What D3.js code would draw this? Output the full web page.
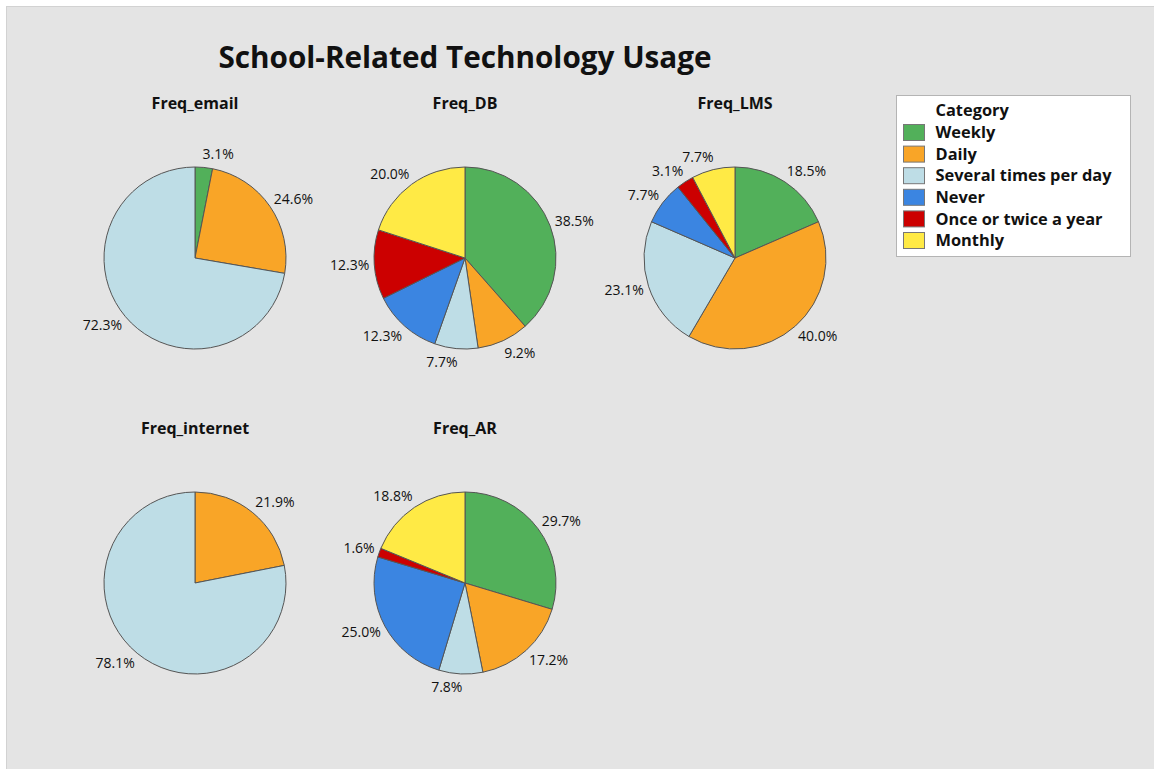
<!DOCTYPE html>
<html>
<head>
<meta charset="utf-8">
<script src="https://cdn.jsdelivr.net/npm/d3@7"></script>
<style>
  html, body { margin: 0; padding: 0; background: #ffffff; }
  svg { display: block; }
  text { font-family: "Open Sans", "Noto Sans", sans-serif; fill: #111; }
</style>
</head>
<body>
<svg id="chart" width="1154" height="769"></svg>
<script>
// Response categories, in slice order (clockwise from 12 o'clock)
const categories = ["Weekly", "Daily", "Several times per day", "Never", "Once or twice a year", "Monthly"];
const categoryColors = ["#52b05a", "#f9a527", "#bedde6", "#3b85e1", "#cc0000", "#ffea45"];

// Percentage of respondents per category for each technology
const panelNames = ["Freq_email", "Freq_DB", "Freq_LMS", "Freq_internet", "Freq_AR"];
const freqEmail    = [3.1, 24.6, 72.3, 0, 0, 0];
const freqDB       = [38.5, 9.2, 7.7, 12.3, 12.3, 20.0];
const freqLMS      = [18.5, 40.0, 23.1, 7.7, 3.1, 7.7];
const freqInternet = [0, 21.9, 78.1, 0, 0, 0];
const freqAR       = [29.7, 17.2, 7.8, 25.0, 1.6, 18.8];
const panelValues = [freqEmail, freqDB, freqLMS, freqInternet, freqAR];

const chartTitle = "School-Related Technology Usage";
const legendTitle = "Category";

const svg = d3.select("#chart");
const W = 1154, H = 769;

// Graph region background with its thin frame
svg.append("rect").attr("x", 6.5).attr("y", 6.5).attr("width", W).attr("height", H)
  .attr("fill", "#e4e4e4").attr("stroke", "#d2d2d2").attr("stroke-width", 1);

svg.append("text")
  .attr("x", 465).attr("y", 68)
  .attr("text-anchor", "middle")
  .attr("font-size", 29.7).attr("font-weight", 700)
  .text(chartTitle);

const color = d3.scaleOrdinal().domain(categories).range(categoryColors);

// Panel grid: 3 columns x 2 rows
const colX = d3.scalePoint().domain([0, 1, 2]).range([195, 735]);
const rowY = d3.scalePoint().domain([0, 1]).range([258, 583]);
const radius = 91;

const pie = d3.pie().sort(null).value(d => d.value);
const arc = d3.arc().innerRadius(0).outerRadius(radius);

panelNames.forEach((name, i) => {
  const cx = colX(i % 3), cy = rowY(Math.floor(i / 3));
  const g = svg.append("g").attr("transform", `translate(${cx},${cy})`);

  g.append("text")
    .attr("x", 0).attr("y", -radius - 58)
    .attr("text-anchor", "middle")
    .attr("font-size", 16).attr("font-weight", 700)
    .text(name);

  const data = categories.map((c, k) => ({ cat: c, value: panelValues[i][k] }));
  const arcs = pie(data).filter(a => a.data.value > 0);

  g.selectAll("path").data(arcs).join("path")
    .attr("d", arc)
    .attr("fill", d => color(d.data.cat))
    .attr("stroke", "#555555")
    .attr("stroke-width", 1);

  // Percentage labels just outside each slice's mid-angle
  const labelR = radius + 7;
  const fs = 14;
  g.selectAll("text.lbl").data(arcs).join("text")
    .attr("class", "lbl")
    .attr("font-size", fs)
    .each(function (d) {
      const a = (d.startAngle + d.endAngle) / 2;
      const px = labelR * Math.sin(a), py = -labelR * Math.cos(a);
      const s = Math.sin(a);
      d3.select(this)
        .attr("x", px + (s >= 0 ? -2 : 2))
        .attr("y", py - Math.cos(a) * fs * 0.45)
        .attr("dy", "0.35em")
        .attr("text-anchor", s >= 0 ? "start" : "end");
    })
    .text(d => d.data.value.toFixed(1) + "%");
});

// Legend
const lg = svg.append("g").attr("transform", "translate(896.5,95.5)");
lg.append("rect").attr("width", 234).attr("height", 161)
  .attr("fill", "#ffffff").attr("stroke", "#b4b4b4");
lg.append("text").attr("x", 39).attr("y", 15).attr("dy", "0.35em")
  .attr("font-size", 16.4).attr("font-weight", 700).text(legendTitle);
const ly = d3.scalePoint().domain(categories).range([37, 145]);
categories.forEach(c => {
  lg.append("rect").attr("x", 7).attr("y", ly(c) - 8).attr("width", 21).attr("height", 16)
    .attr("fill", color(c)).attr("stroke", "#777777");
  lg.append("text").attr("x", 39).attr("y", ly(c)).attr("dy", "0.35em")
    .attr("font-size", 16.4).attr("font-weight", 700).text(c);
});
</script>
</body>
</html>
